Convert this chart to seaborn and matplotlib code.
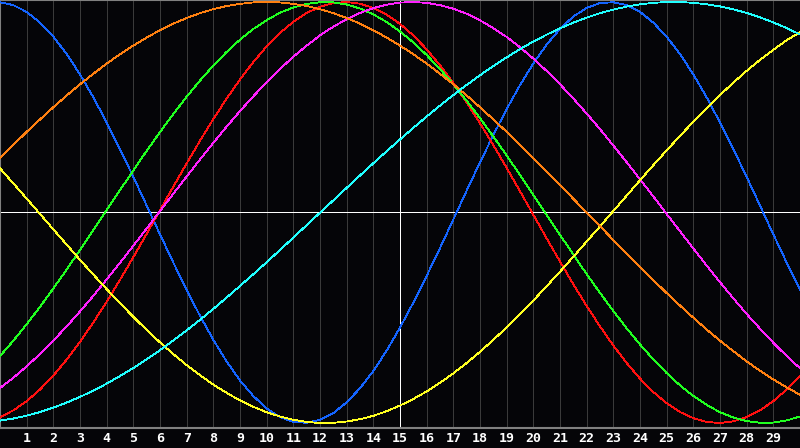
import numpy as np
import pandas as pd
import matplotlib
matplotlib.use("Agg")
import matplotlib.pyplot as plt
import seaborn as sns

# day positions (every half day from 0 to 30)
days = np.arange(0, 30.5, 0.5)
day_labels = [str(d) for d in range(1, 30)]

# curve values, in thousandths of the amplitude
physical = [999, 985, 953, 902, 835, 753, 656, 547, 428, 301, 169, 33, -104, -238, -368, -491, -605, -708, -798, -872, -931, -972, -995, -999, -985, -953, -902, -835, -753, -656, -547, -428, -301, -169, -33, 104, 238, 368, 491, 605, 708, 798, 872, 931, 972, 995, 999, 985, 953, 902, 835, 753, 656, 547, 428, 301, 169, 33, -104, -238, -368]
emotional = [-972, -940, -896, -841, -775, -699, -615, -522, -424, -320, -212, -101, 11, 123, 233, 341, 444, 541, 632, 715, 789, 853, 906, 948, 977, 995, 1000, 992, 972, 940, 896, 841, 775, 699, 615, 522, 424, 320, 212, 101, -11, -123, -233, -341, -444, -541, -632, -715, -789, -853, -906, -948, -977, -995, -1000, -992, -972, -940, -896, -841, -775]
intellectual = [-682, -609, -531, -448, -361, -271, -178, -84, 11, 106, 200, 293, 382, 468, 550, 627, 698, 763, 821, 872, 914, 949, 974, 991, 999, 998, 988, 969, 941, 905, 860, 808, 748, 682, 609, 531, 448, 361, 271, 178, 84, -11, -106, -200, -293, -382, -468, -550, -627, -698, -763, -821, -872, -914, -949, -974, -991, -999, -998, -988, -969]
intuitive = [-834, -785, -731, -672, -609, -541, -470, -396, -318, -239, -158, -76, 7, 89, 171, 252, 331, 408, 482, 552, 619, 682, 740, 793, 841, 883, 918, 948, 971, 987, 997, 1000, 996, 985, 968, 944, 913, 876, 834, 785, 731, 672, 609, 541, 470, 396, 318, 239, 158, 76, -7, -89, -171, -252, -331, -408, -482, -552, -619, -682, -740]
aesthetic = [210, 138, 66, -7, -80, -153, -225, -295, -364, -431, -496, -558, -617, -673, -725, -773, -818, -857, -893, -923, -949, -969, -985, -995, -1000, -999, -993, -982, -966, -944, -917, -886, -850, -809, -764, -715, -662, -605, -546, -483, -418, -350, -281, -210, -138, -66, 7, 80, 153, 225, 295, 364, 431, 496, 558, 617, 673, 725, 773, 818, 857]
awareness = [259, 321, 383, 442, 500, 556, 609, 659, 707, 752, 793, 831, 866, 897, 924, 947, 966, 981, 991, 998, 1000, 998, 991, 981, 966, 947, 924, 897, 866, 831, 793, 752, 707, 659, 609, 556, 500, 442, 383, 321, 259, 195, 131, 65, 0, -65, -131, -195, -259, -321, -383, -442, -500, -556, -609, -659, -707, -752, -793, -831, -866]
spiritual = [-989, -979, -965, -948, -927, -903, -876, -846, -813, -777, -739, -697, -654, -608, -560, -510, -458, -404, -349, -293, -236, -178, -119, -60, -1, 58, 117, 176, 234, 291, 347, 402, 456, 508, 558, 606, 652, 696, 737, 776, 812, 845, 875, 902, 926, 947, 964, 978, 989, 996, 1000, 1000, 996, 989, 979, 965, 948, 927, 903, 876, 846]

series = {
    'Physical': physical,
    'Emotional': emotional,
    'Intellectual': intellectual,
    'Intuitive': intuitive,
    'Aesthetic': aesthetic,
    'Awareness': awareness,
    'Spiritual': spiritual,
}
colors = {'Physical': '#1464ff', 'Emotional': '#ff1010', 'Intellectual': '#20ff20',
          'Intuitive': '#ff20ff', 'Aesthetic': '#ffff20', 'Awareness': '#ff8010',
          'Spiritual': '#20ffff'}

frames = []
for name, v in series.items():
    frames.append(pd.DataFrame({'day': days, 'value': np.array(v) / 1000.0, 'cycle': name}))
df = pd.concat(frames, ignore_index=True)

sns.set_theme(style='dark')
fig = plt.figure(figsize=(8, 4.48), dpi=100, facecolor='#050508')
ax = fig.add_axes([0, 20 / 448, 1, 428 / 448])
ax.set_facecolor('#050508')

# day grid, with the middle day and the zero line in white
for d in range(1, 30):
    ax.axvline(d, color='#ffffff' if d == 15 else '#3a3a3a', lw=0.6, zorder=1, antialiased=False)
ax.axhline(0, color='#ffffff', lw=0.6, zorder=1, antialiased=False)

sns.lineplot(data=df, x='day', y='value', hue='cycle', palette=colors, lw=0.6,
             legend=False, ax=ax, zorder=3, antialiased=False)

ax.set_xlim(0, 30)
ax.set_ylim(-1.0238, 1.0095)
ax.set_xticks(range(1, 30))
ax.set_xticklabels(day_labels, color='white', fontweight='bold',
                   fontsize=9.5, family='DejaVu Sans Mono')
ax.set_yticks([])
ax.tick_params(axis='x', length=0, pad=3)
ax.set_xlabel('')
ax.set_ylabel('')
ax.grid(False)
for side in ['left', 'top', 'bottom']:
    ax.spines[side].set_color('#808080')
    ax.spines[side].set_linewidth(1.5)
ax.spines['right'].set_visible(False)

fig.savefig('out.png', dpi=100, facecolor='#050508')
